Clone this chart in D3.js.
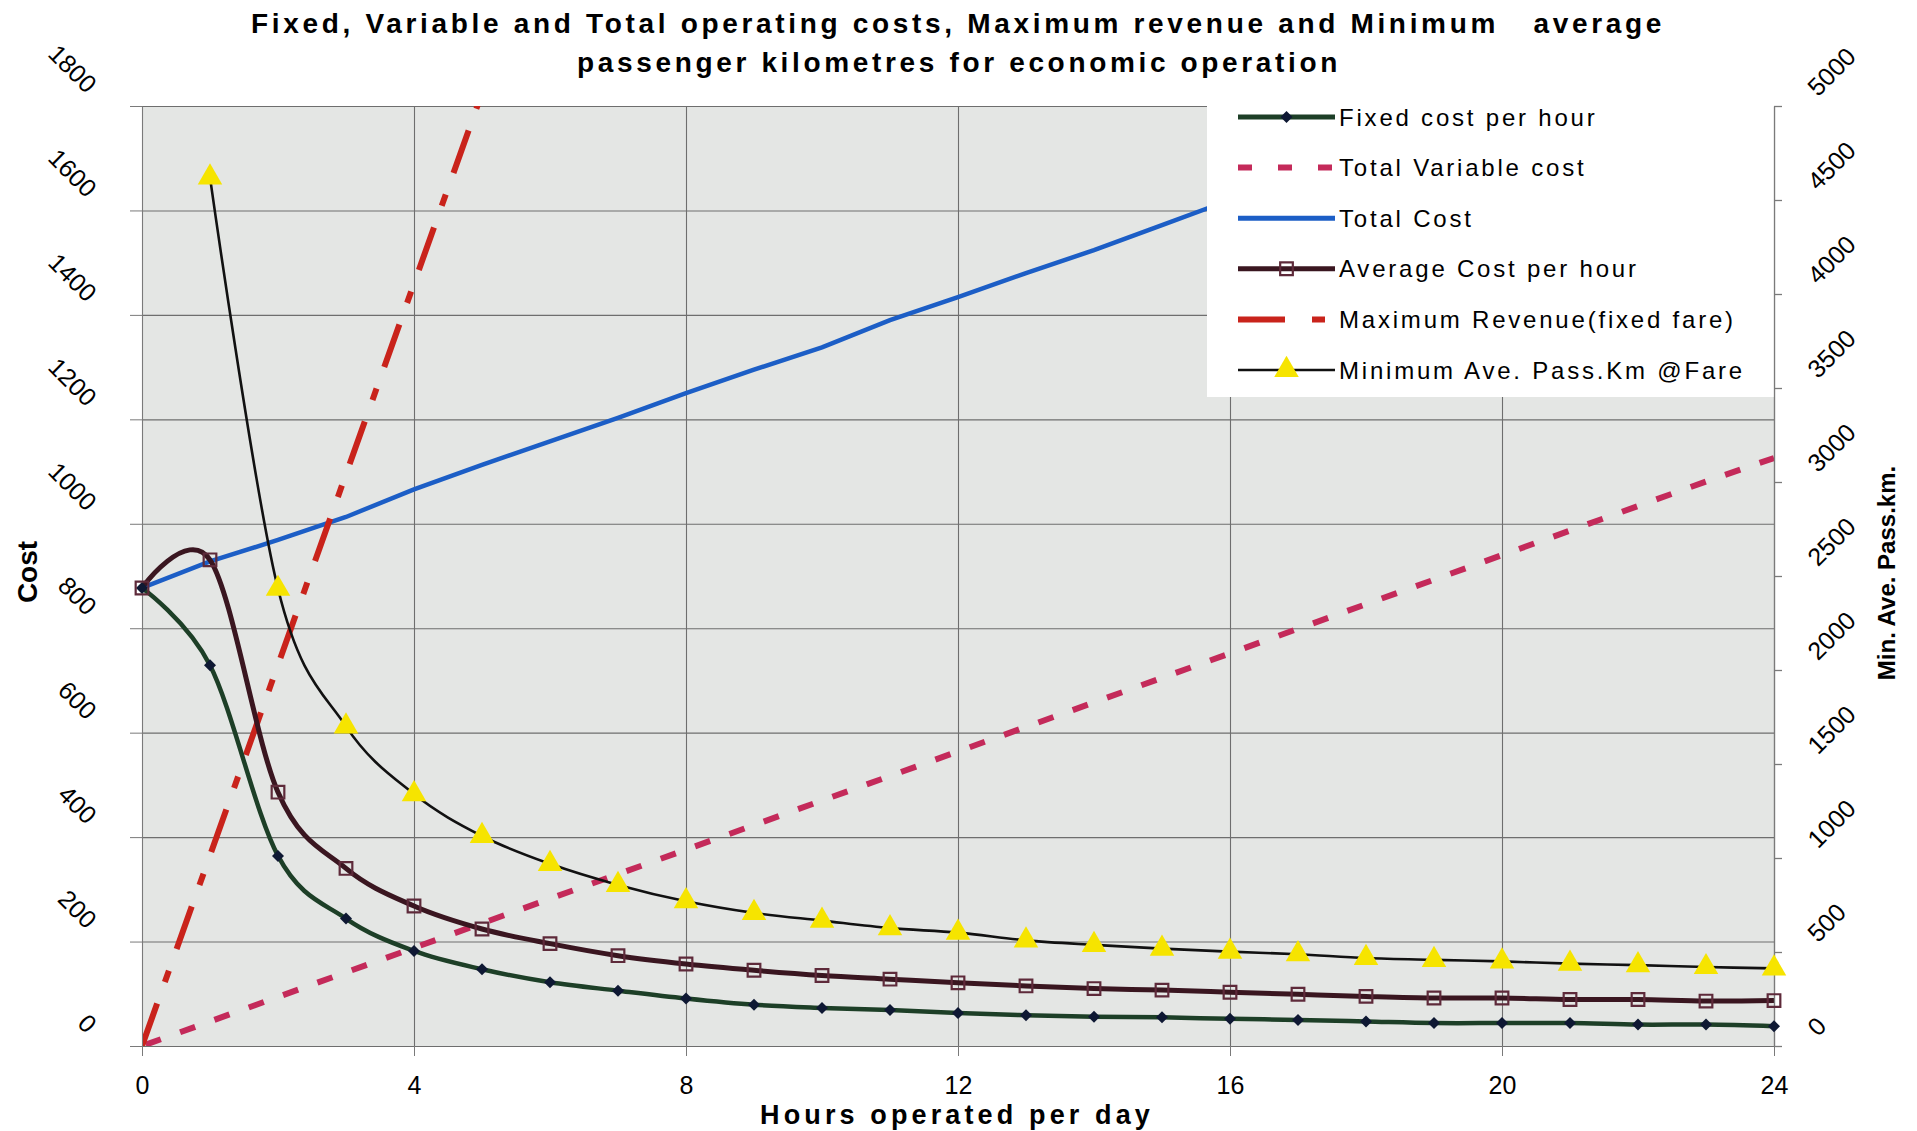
<!DOCTYPE html>
<html><head><meta charset="utf-8">
<script src="https://cdn.jsdelivr.net/npm/d3@7"></script>
<style>
html,body{margin:0;padding:0;background:#fff;}
svg{display:block;}
text{font-family:"Liberation Sans",Arial,Helvetica,sans-serif;fill:#000;}
</style></head><body>
<svg id="chart" width="1917" height="1131"></svg>
<script>
// ---------------- DATA ----------------
const hours = [0,1,2,3,4,5,6,7,8,9,10,11,12,13,14,15,16,17,18,19,20,21,22,23,24];
const fixedCost = [877,729,364,244,182,147,122,106,91,79,73,69,63,59,56,55,52,50,47,44,44,44,41,41,38];
const variableCost = [0,47,94,141,188,235,282,329,376,423,470,517,564,611,658,705,752,799,846,893,940,987,1034,1081,1126];
const totalCostHours = [0,1,2,3,4,5,6,7,8,9,10,11,12,13,14,15,16];
const totalCost = [877,928,969,1013,1066,1113,1158,1203,1250,1295,1338,1390,1434,1480,1524,1572,1620];
const avgCost = [877,931,486,340,268,224,196,173,157,145,135,128,121,115,110,107,103,99,95,92,92,89,89,86,87];
const revenueHours = [0,1,2,3,4,5];
const maxRevenue = [0,365,730,1095,1460,1825];
const passKmHours = [1,2,3,4,5,6,7,8,9,10,11,12,13,14,15,16,17,18,19,20,21,22,23,24];
const minPassKm = [4620,2432,1700,1340,1117,969,857,770,708,667,627,603,562,538,518,502,488,468,458,450,438,430,420,413];

const xTicks = [0,4,8,12,16,20,24];
const yLeftTicks = [0,200,400,600,800,1000,1200,1400,1600,1800];
const yRightTicks = [0,500,1000,1500,2000,2500,3000,3500,4000,4500,5000];

const titleLines = ["Fixed, Variable and Total operating costs, Maximum revenue and Minimum   average",
                    "passenger kilometres for economic operation"];
const xTitle = "Hours operated per day";
const yLeftTitle = "Cost";
const yRightTitle = "Min. Ave. Pass.km.";
const legendLabels = ["Fixed cost per hour","Total Variable cost","Total Cost","Average Cost per hour",
                      "Maximum Revenue(fixed fare)","Minimum Ave. Pass.Km @Fare"];

// ---------------- LAYOUT ----------------
const W = 1917, H = 1131;
const P = {left:142, right:1774, top:106, bottom:1046};
const svg = d3.select("#chart");
const font = '"Liberation Sans",Arial,Helvetica,sans-serif';
const fmt = d3.format("d");

const x = d3.scaleLinear().domain([0,24]).range([P.left,P.right]);
const yL = d3.scaleLinear().domain([0,1800]).range([P.bottom,P.top]);
const yR = d3.scaleLinear().domain([0,5000]).range([P.bottom,P.top]);

const C = {
  fixed:"#1d3f27", diamond:"#0e1833",
  variable:"#c42a5a",
  total:"#1c5ec6",
  avg:"#3a1620", square:"#5e2a3a",
  revenue:"#c9231b",
  pass:"#111111", tri:"#f6e400",
  grid:"#6e6e6e", axis:"#7a7a7a", plotBg:"#e4e6e4"
};

// plot background
svg.append("rect").attr("x",P.left).attr("y",P.top)
  .attr("width",P.right-P.left).attr("height",P.bottom-P.top).attr("fill",C.plotBg);

// grid
const gGridH = svg.append("g").attr("transform",`translate(${P.left},0)`)
  .call(d3.axisLeft(yL).tickValues(yLeftTicks).tickSize(-(P.right-P.left)).tickFormat(""));
gGridH.select(".domain").remove();
gGridH.selectAll("line").attr("stroke",C.grid).attr("stroke-width",1.1);
const gGridV = svg.append("g").attr("transform",`translate(0,${P.bottom})`)
  .call(d3.axisBottom(x).tickValues(xTicks).tickSize(-(P.bottom-P.top)).tickFormat(""));
gGridV.select(".domain").remove();
gGridV.selectAll("line").attr("stroke",C.grid).attr("stroke-width",1.1);

// clip
svg.append("clipPath").attr("id","plotclip").append("rect")
  .attr("x",P.left).attr("y",P.top).attr("width",P.right-P.left).attr("height",P.bottom-P.top);
const gS = svg.append("g").attr("clip-path","url(#plotclip)");
const gM = svg.append("g");

const smooth = d3.curveCardinal.tension(0);
function lineOf(xs, ys, yScale, curve){
  return d3.line().x((d,i)=>x(xs[i])).y(d=>yScale(d)).curve(curve)(ys);
}

// Total variable cost (dashed)
gS.append("path").attr("d",lineOf(hours,variableCost,yL,d3.curveLinear))
  .attr("fill","none").attr("stroke",C.variable).attr("stroke-width",6)
  .attr("stroke-dasharray","16 20.5").attr("stroke-dashoffset",-4);
// Total cost
gS.append("path").attr("d",lineOf(totalCostHours,totalCost,yL,d3.curveLinear))
  .attr("fill","none").attr("stroke",C.total).attr("stroke-width",4.5);
// Max revenue
gS.append("path").attr("d",lineOf(revenueHours,maxRevenue,yL,d3.curveLinear))
  .attr("fill","none").attr("stroke",C.revenue).attr("stroke-width",6)
  .attr("stroke-dasharray","45 23 12 23");
// Fixed cost
gS.append("path").attr("d",lineOf(hours,fixedCost,yL,smooth))
  .attr("fill","none").attr("stroke",C.fixed).attr("stroke-width",4.5);
// Average cost
gS.append("path").attr("d",lineOf(hours,avgCost,yL,smooth))
  .attr("fill","none").attr("stroke",C.avg).attr("stroke-width",5);
// Min pass km
gS.append("path").attr("d",lineOf(passKmHours,minPassKm,yR,smooth))
  .attr("fill","none").attr("stroke",C.pass).attr("stroke-width",2.6);

// markers (not clipped, as in the reference)
const diamond = d3.symbol(d3.symbolSquare, 72)();
const square = d3.symbol(d3.symbolSquare, 160)();
const triangle = d3.symbol(d3.symbolTriangle, 260)();
gM.selectAll(".dia").data(fixedCost).join("path")
  .attr("d",diamond).attr("transform",(d,i)=>`translate(${x(hours[i])},${yL(d)}) rotate(45)`)
  .attr("fill",C.diamond);
gM.selectAll(".sq").data(avgCost).join("path")
  .attr("d",square).attr("transform",(d,i)=>`translate(${x(hours[i])},${yL(d)})`)
  .attr("fill","none").attr("stroke",C.square).attr("stroke-width",2.2);
gM.selectAll(".tri").data(minPassKm).join("path")
  .attr("d",triangle).attr("transform",(d,i)=>`translate(${x(passKmHours[i])},${yR(d)})`)
  .attr("fill",C.tri);

// ---------------- LEGEND ----------------
const LG = {left:1207, right:P.right, top:92, bottom:397, x0:1238, x1:1335, tx:1339, row0:117, step:50.6};
svg.append("rect").attr("x",LG.left).attr("y",LG.top).attr("width",LG.right-LG.left)
  .attr("height",LG.bottom-LG.top).attr("fill","#ffffff");
const lg = svg.append("g");
const mid = (LG.x0+LG.x1)/2;
legendLabels.forEach((lab,i)=>{
  const yy = LG.row0 + i*LG.step;
  const ln = lg.append("line").attr("x1",LG.x0).attr("x2",LG.x1).attr("y1",yy).attr("y2",yy).attr("fill","none");
  if(i===0){ ln.attr("stroke",C.fixed).attr("stroke-width",5);
    lg.append("path").attr("d",diamond).attr("transform",`translate(${mid},${yy}) rotate(45)`).attr("fill",C.diamond);}
  if(i===1){ ln.attr("stroke",C.variable).attr("stroke-width",6).attr("stroke-dasharray","14 26"); }
  if(i===2){ ln.attr("stroke",C.total).attr("stroke-width",5); }
  if(i===3){ ln.attr("stroke",C.avg).attr("stroke-width",5);
    lg.append("path").attr("d",square).attr("transform",`translate(${mid},${yy})`).attr("fill","none").attr("stroke",C.square).attr("stroke-width",2.2);}
  if(i===4){ ln.attr("stroke",C.revenue).attr("stroke-width",6).attr("stroke-dasharray","47 27 13 40"); }
  if(i===5){ ln.attr("stroke",C.pass).attr("stroke-width",2.6);
    lg.append("path").attr("d",triangle).attr("transform",`translate(${mid},${yy})`).attr("fill",C.tri);}
  lg.append("text").attr("class","lgt").attr("x",LG.tx).attr("y",yy+8.5).attr("font-size",24).text(lab);
});
// fit legend letter spacing using the longest label
(function(){
  const t = lg.selectAll(".lgt").nodes();
  const last = t[5]; const nat = last.getComputedTextLength();
  const ls = (406 - nat)/ (legendLabels[5].length);
  lg.selectAll(".lgt").style("letter-spacing", ls+"px");
})();

// ---------------- AXES ----------------
const gL = svg.append("g").attr("transform",`translate(${P.left},0)`)
  .call(d3.axisLeft(yL).tickValues(yLeftTicks).tickFormat(fmt).tickSize(12).tickSizeOuter(0));
gL.attr("font-family",font).attr("font-size",25);
gL.select(".domain").attr("stroke",C.axis);
gL.selectAll("line").attr("stroke",C.axis);
gL.selectAll("text").attr("x",0).attr("dy",0).attr("fill","#000")
  .attr("text-anchor","end").attr("transform","translate(-56,-12) rotate(45)");

const gR = svg.append("g").attr("transform",`translate(${P.right},0)`)
  .call(d3.axisRight(yR).tickValues(yRightTicks).tickFormat(fmt).tickSize(8).tickSizeOuter(0));
gR.attr("font-family",font).attr("font-size",25);
gR.select(".domain").attr("stroke",C.axis).attr("stroke-width",1.3);
gR.selectAll("line").attr("stroke",C.axis).attr("stroke-width",1.3);
gR.selectAll("text").attr("x",0).attr("dy",0).attr("fill","#000")
  .attr("text-anchor","start").attr("transform","translate(44,-9) rotate(-45)");

const gB = svg.append("g").attr("transform",`translate(0,${P.bottom})`)
  .call(d3.axisBottom(x).tickValues(xTicks).tickFormat(fmt).tickSize(10).tickSizeOuter(0));
gB.attr("font-family",font).attr("font-size",25);
gB.select(".domain").attr("stroke",C.grid);
gB.selectAll("line").attr("stroke",C.axis);
gB.selectAll("text").attr("y",48).attr("dy",0).attr("fill","#000");

// redraw markers above axes lines
gM.raise();
lg.raise();

// ---------------- TITLES ----------------
function fitText(sel, target){
  const n = sel.text().length;
  const nat = sel.node().getComputedTextLength();
  sel.style("letter-spacing", ((target-nat)/n)+"px");
}
const t1 = svg.append("text").attr("x",251).attr("y",33).attr("font-size",28).attr("font-weight","bold")
  .style("white-space","pre").text(titleLines[0]);
fitText(t1,1414);
const t2 = svg.append("text").attr("x",577).attr("y",72).attr("font-size",28).attr("font-weight","bold")
  .style("white-space","pre").text(titleLines[1]);
fitText(t2,764);
const xt = svg.append("text").attr("x",760).attr("y",1124).attr("font-size",27).attr("font-weight","bold").text(xTitle);
fitText(xt,394);
svg.append("text").attr("transform","translate(37,572) rotate(-90)").attr("text-anchor","middle")
  .attr("font-size",28).attr("font-weight","bold").text(yLeftTitle);
svg.append("text").attr("transform","translate(1895,573) rotate(-90)").attr("text-anchor","middle")
  .attr("font-size",24).attr("font-weight","bold").text(yRightTitle);
</script>
</body></html>
